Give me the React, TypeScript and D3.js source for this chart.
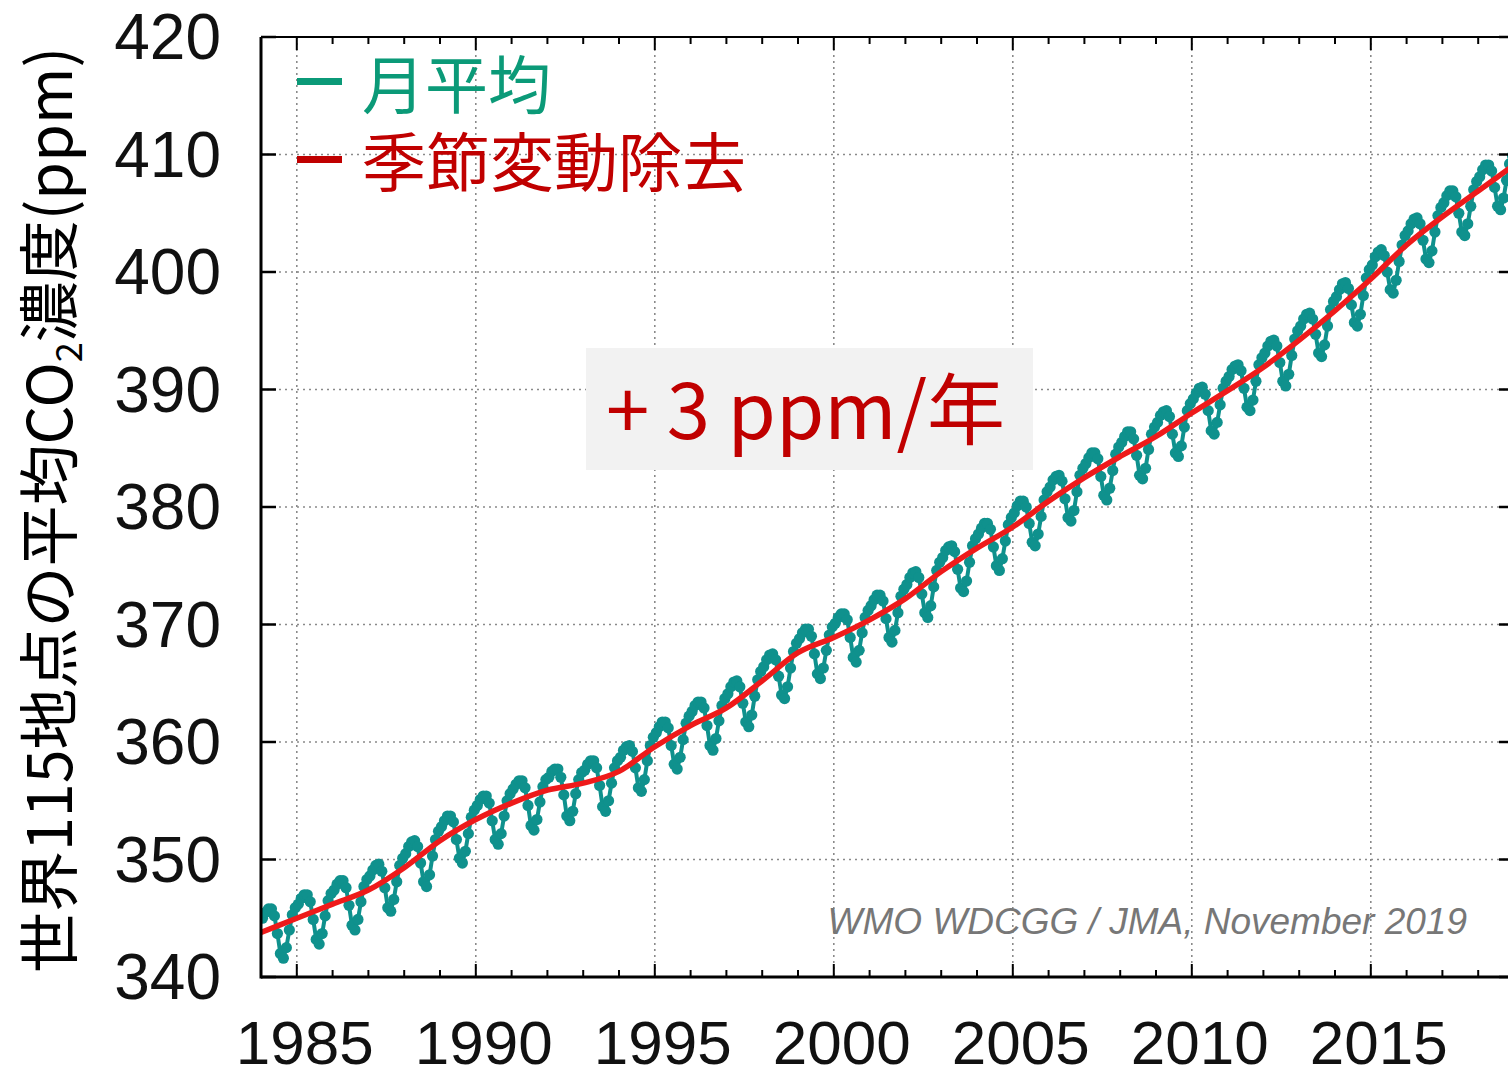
import React from "react";
import * as d3 from "d3";

const W = 1508;
const H = 1071;

const startYear = 1984;
// monthly mean CO2 (ppm), Jan..Dec for each year from 1984
const monthlyMean: number[] = [
  345.0, 345.5, 345.8, 345.8, 345.2, 343.7, 342.0, 341.6, 342.5, 344.0, 345.3, 345.9, // 1984
  346.2, 346.7, 347.0, 347.0, 346.4, 344.9, 343.2, 342.8, 343.7, 345.2, 346.5, 347.1, // 1985
  347.4, 347.9, 348.2, 348.2, 347.6, 346.1, 344.4, 344.0, 344.9, 346.4, 347.7, 348.3, // 1986
  348.6, 349.1, 349.5, 349.6, 349.0, 347.6, 345.9, 345.6, 346.6, 348.1, 349.5, 350.1, // 1987
  350.5, 351.1, 351.5, 351.6, 351.1, 349.7, 348.1, 347.7, 348.7, 350.3, 351.7, 352.4, // 1988
  352.8, 353.3, 353.7, 353.7, 353.2, 351.7, 350.1, 349.7, 350.7, 352.2, 353.6, 354.2, // 1989
  354.6, 355.1, 355.4, 355.4, 354.8, 353.3, 351.7, 351.3, 352.2, 353.7, 355.0, 355.6, // 1990
  356.0, 356.4, 356.7, 356.7, 356.1, 354.6, 352.9, 352.5, 353.4, 354.9, 356.2, 356.8, // 1991
  357.0, 357.5, 357.7, 357.7, 357.0, 355.5, 353.7, 353.3, 354.1, 355.6, 356.8, 357.4, // 1992
  357.6, 358.1, 358.4, 358.4, 357.8, 356.3, 354.5, 354.1, 355.0, 356.5, 357.8, 358.4, // 1993
  358.7, 359.3, 359.6, 359.7, 359.2, 357.8, 356.1, 355.8, 356.8, 358.4, 359.7, 360.4, // 1994
  360.8, 361.3, 361.7, 361.7, 361.2, 359.7, 358.1, 357.7, 358.7, 360.2, 361.6, 362.2, // 1995
  362.6, 363.1, 363.4, 363.4, 362.9, 361.4, 359.7, 359.3, 360.3, 361.8, 363.1, 363.7, // 1996
  364.1, 364.7, 365.1, 365.2, 364.7, 363.3, 361.7, 361.3, 362.3, 363.9, 365.3, 366.0, // 1997
  366.4, 367.0, 367.4, 367.5, 367.0, 365.6, 364.0, 363.7, 364.7, 366.3, 367.7, 368.4, // 1998
  368.8, 369.3, 369.6, 369.6, 369.0, 367.5, 365.8, 365.4, 366.3, 367.8, 369.1, 369.8, // 1999
  370.1, 370.6, 370.9, 370.9, 370.4, 368.9, 367.2, 366.8, 367.8, 369.3, 370.6, 371.2, // 2000
  371.6, 372.1, 372.5, 372.5, 372.0, 370.5, 368.9, 368.5, 369.5, 371.0, 372.4, 373.0, // 2001
  373.4, 374.0, 374.4, 374.5, 374.0, 372.6, 371.0, 370.6, 371.6, 373.2, 374.6, 375.3, // 2002
  375.7, 376.3, 376.6, 376.7, 376.2, 374.7, 373.1, 372.8, 373.7, 375.3, 376.7, 377.3, // 2003
  377.7, 378.2, 378.6, 378.6, 378.1, 376.6, 375.0, 374.6, 375.6, 377.1, 378.5, 379.1, // 2004
  379.5, 380.1, 380.5, 380.5, 380.0, 378.6, 377.0, 376.7, 377.7, 379.2, 380.6, 381.3, // 2005
  381.7, 382.3, 382.6, 382.7, 382.2, 380.7, 379.1, 378.8, 379.7, 381.3, 382.7, 383.3, // 2006
  383.7, 384.2, 384.6, 384.6, 384.1, 382.6, 381.0, 380.6, 381.6, 383.1, 384.5, 385.1, // 2007
  385.5, 386.0, 386.4, 386.4, 385.8, 384.4, 382.7, 382.4, 383.3, 384.9, 386.2, 386.8, // 2008
  387.2, 387.8, 388.1, 388.2, 387.7, 386.2, 384.6, 384.3, 385.2, 386.8, 388.2, 388.8, // 2009
  389.2, 389.7, 390.1, 390.2, 389.6, 388.2, 386.5, 386.2, 387.2, 388.7, 390.1, 390.7, // 2010
  391.1, 391.7, 392.0, 392.1, 391.6, 390.1, 388.5, 388.2, 389.1, 390.7, 392.1, 392.7, // 2011
  393.1, 393.7, 394.1, 394.2, 393.7, 392.3, 390.7, 390.3, 391.3, 392.9, 394.3, 395.0, // 2012
  395.4, 396.0, 396.4, 396.5, 396.0, 394.7, 393.1, 392.8, 393.8, 395.4, 396.8, 397.5, // 2013
  397.9, 398.5, 399.0, 399.1, 398.6, 397.2, 395.7, 395.4, 396.4, 398.0, 399.5, 400.2, // 2014
  400.6, 401.3, 401.7, 401.9, 401.4, 400.0, 398.5, 398.2, 399.3, 400.9, 402.3, 403.1, // 2015
  403.5, 404.1, 404.5, 404.6, 404.1, 402.7, 401.1, 400.8, 401.8, 403.4, 404.8, 405.5, // 2016
  405.9, 406.5, 406.9, 406.9, 406.4, 405.0, 403.4, 403.1, 404.1, 405.6, 407.0, 407.7, // 2017
  408.1, 408.7, 409.1, 409.1, 408.6, 407.2, 405.6, 405.3, 406.3, 407.8, 409.2, 409.9, // 2018
];

// deseasonalized trend (ppm) at the start of each year
const trendYears: number[] = [
  1984, 1985, 1986, 1987, 1988, 1989, 1990, 1991, 1992, 1993, 1994, 1995,
  1996, 1997, 1998, 1999, 2000, 2001, 2002, 2003, 2004, 2005, 2006, 2007,
  2008, 2009, 2010, 2011, 2012, 2013, 2014, 2015, 2016, 2017, 2018, 2019,
];
const trendValues: number[] = [
  343.8, 345.0, 346.2, 347.4, 349.3, 351.6, 353.4, 354.8, 355.9, 356.5, 357.5, 359.6,
  361.4, 362.9, 365.2, 367.6, 368.9, 370.4, 372.2, 374.5, 376.5, 378.3, 380.5, 382.5,
  384.3, 386.0, 388.0, 389.9, 391.9, 394.2, 396.7, 399.4, 402.3, 404.7, 406.9, 409.1,
];

const yTicks: number[] = [340, 350, 360, 370, 380, 390, 400, 410, 420];
const xMajorTicks: number[] = [1985, 1990, 1995, 2000, 2005, 2010, 2015];
const xMinorTicks: number[] = d3.range(1984, 2020);

const legendLabels = ["月平均", "季節変動除去"];
const rateLabel = "+ 3 ppm/年";
const creditLabel = "WMO WDCGG / JMA, November 2019";

const TEAL = "#0f918d";
const LEGEND_TEAL = "#0b9a78";
const RED = "#ee1a1a";
const DARK_RED = "#c00000";

export default function App() {
  const x = d3.scaleLinear().domain([1984, 2019]).range([261, 1514]);
  const y = d3.scaleLinear().domain([340, 420]).range([977, 37]);
  const [x0, x1] = x.range();
  const [yb, yt] = y.range();

  const pts = monthlyMean.map((v, i) => ({
    t: startYear + Math.floor(i / 12) + ((i % 12) + 0.5) / 12,
    v,
  }));
  const monthlyLine = d3
    .line<{ t: number; v: number }>()
    .x((d) => x(d.t))
    .y((d) => y(d.v))(pts);
  const trendLine = d3
    .line<number>()
    .x((_, i) => x(trendYears[i]))
    .y((d) => y(d))
    .curve(d3.curveMonotoneX)(trendValues);

  const sans = "'Liberation Sans', Arial, Helvetica, sans-serif";
  const cjk = "'Noto Sans CJK JP', 'Noto Sans', sans-serif";

  return (
    <svg
      width={W}
      height={H}
      viewBox={`0 0 ${W} ${H}`}
      style={{ position: "absolute", left: 0, top: 0, background: "#fff" }}
    >
      <defs>
        <clipPath id="plot">
          <rect x={x0} y={yt} width={x1 - x0} height={yb - yt} />
        </clipPath>
      </defs>
      <rect x={0} y={0} width={W} height={H} fill="#fff" />

      {/* grid */}
      <g stroke="#8a8a8a" strokeWidth={1.6} strokeDasharray="2,4">
        {xMajorTicks.map((t) => (
          <line key={"gx" + t} x1={x(t)} x2={x(t)} y1={yt} y2={yb} />
        ))}
        {yTicks.slice(1, -1).map((v) => (
          <line key={"gy" + v} x1={x0} x2={x1} y1={y(v)} y2={y(v)} />
        ))}
      </g>

      {/* rate box */}
      <rect x={586} y={348} width={447} height={122} fill="#f2f2f2" />
      <text x={606} y={439} fontFamily={cjk} fontSize={78} fill={DARK_RED}>
        {rateLabel}
      </text>

      {/* credit */}
      <text
        x={1467}
        y={934}
        textAnchor="end"
        fontFamily={sans}
        fontStyle="italic"
        fontSize={37}
        fill="#777"
      >
        {creditLabel}
      </text>

      {/* data */}
      <g clipPath="url(#plot)">
        <path d={monthlyLine ?? ""} fill="none" stroke={TEAL} strokeWidth={4} />
        {pts.map((d, i) => (
          <circle key={i} cx={x(d.t)} cy={y(d.v)} r={5.6} fill={TEAL} />
        ))}
        <path d={trendLine ?? ""} fill="none" stroke={RED} strokeWidth={5.5} />
      </g>

      {/* frame */}
      <g stroke="#000" fill="none">
        <line x1={x0} x2={x0} y1={yt} y2={yb + 1.5} strokeWidth={3} />
        <line x1={x0} x2={x1} y1={yb} y2={yb} strokeWidth={3} />
        <line x1={x0} x2={x1} y1={yt} y2={yt} strokeWidth={2} />
        <line x1={x1} x2={x1} y1={yt} y2={yb} strokeWidth={2} />
        {xMinorTicks.map((t) => {
          const major = xMajorTicks.includes(t);
          const len = major ? 13 : 7;
          return (
            <g key={"tx" + t} strokeWidth={2}>
              <line x1={x(t)} x2={x(t)} y1={yb} y2={yb - len} />
              <line x1={x(t)} x2={x(t)} y1={yt} y2={yt + len} />
            </g>
          );
        })}
        {yTicks.map((v) => (
          <g key={"ty" + v} strokeWidth={2.5}>
            <line x1={x0} x2={x0 + 15} y1={y(v)} y2={y(v)} />
            <line x1={x1} x2={x1 - 15} y1={y(v)} y2={y(v)} />
          </g>
        ))}
      </g>

      {/* y tick labels */}
      {yTicks.map((v) => (
        <text
          key={"ly" + v}
          x={221}
          y={y(v) + 22}
          textAnchor="end"
          fontFamily={sans}
          fontSize={64}
          fill="#111"
        >
          {v}
        </text>
      ))}
      {/* x tick labels */}
      {xMajorTicks.map((t) => (
        <text
          key={"lx" + t}
          x={x(t) + 8}
          y={1064}
          textAnchor="middle"
          fontFamily={sans}
          fontSize={62}
          fill="#111"
        >
          {t}
        </text>
      ))}

      {/* y axis title */}
      <text
        transform="translate(72,510) rotate(-90)"
        textAnchor="middle"
        fontFamily={cjk}
        fontSize={61}
        fill="#000"
      >
        世界115地点の平均CO
        <tspan fontSize={36} dy={10}>2</tspan>
        <tspan dy={-10}>濃度(ppm)</tspan>
      </text>

      {/* legend */}
      <line x1={297} x2={342} y1={81.5} y2={81.5} stroke={LEGEND_TEAL} strokeWidth={7} />
      <text x={362} y={108} fontFamily={cjk} fontSize={63} fill={LEGEND_TEAL}>
        {legendLabels[0]}
      </text>
      <line x1={297} x2={342} y1={159.5} y2={159.5} stroke={DARK_RED} strokeWidth={7} />
      <text x={362} y={186} fontFamily={cjk} fontSize={64} fill={DARK_RED}>
        {legendLabels[1]}
      </text>
    </svg>
  );
}
